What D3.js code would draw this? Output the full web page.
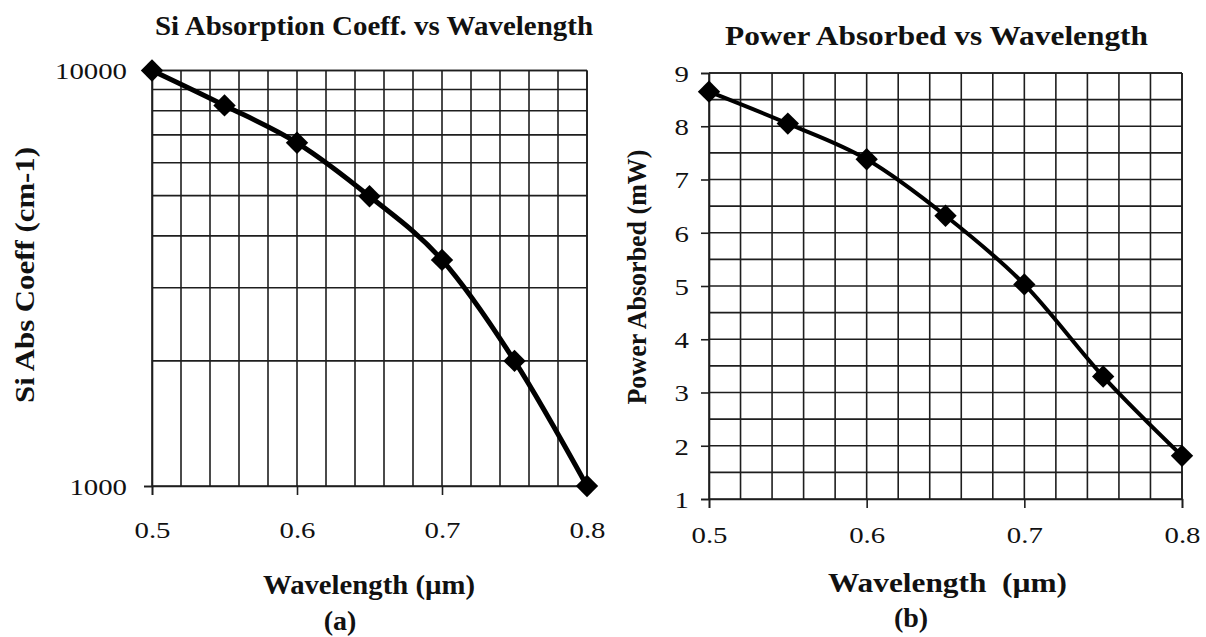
<!DOCTYPE html>
<html>
<head>
<meta charset="utf-8">
<script src="https://cdn.jsdelivr.net/npm/d3@7"></script>
<style>
  html, body { margin: 0; padding: 0; background: #fff; }
  svg { display: block; }
  text { font-family: "Liberation Serif", "Times New Roman", serif; fill: #111; }
</style>
</head>
<body>
<svg id="chart" width="1206" height="637"></svg>
<script>
// ---------- data ----------
const wavelengths = [0.5, 0.55, 0.6, 0.65, 0.7, 0.75, 0.8];
const absCoeff    = [10000, 8240, 6700, 4980, 3500, 2000, 1000];
const powerAbs    = [8.65, 8.05, 7.38, 6.32, 5.03, 3.30, 1.81];
const xTickValues = [0.5, 0.6, 0.7, 0.8];
const leftYTickValues  = [1000, 10000];
const rightYTickValues = [1, 2, 3, 4, 5, 6, 7, 8, 9];
const titleA = "Si Absorption Coeff. vs Wavelength";
const titleB = "Power Absorbed vs Wavelength";
const xTitleA = "Wavelength (µm)";
const xTitleB = "Wavelength\u00a0\u00a0(µm)";
const yTitleA = "Si Abs Coeff (cm-1)";
const yTitleB = "Power Absorbed (mW)";

const svg = d3.select("#chart");
const GRID = "#1e1e1e";

function stretch(sel, f) {
  sel.each(function () {
    const w = this.getComputedTextLength();
    d3.select(this).attr("textLength", w * f).attr("lengthAdjust", "spacingAndGlyphs");
  });
}

function drawPanel(opt) {
  const g = svg.append("g");
  const x = opt.x, y = opt.y;
  const [x0, x1] = x.range();
  const [yb, yt] = y.range();

  // vertical grid (0.02 steps)
  const vGrid = d3.range(0, 16).map(i => +(0.5 + i * 0.02).toFixed(2));
  g.append("g").selectAll("line").data(vGrid).join("line")
    .attr("x1", d => x(d)).attr("x2", d => x(d))
    .attr("y1", yt).attr("y2", yb)
    .attr("stroke", GRID).attr("stroke-width", 1.6);

  // horizontal grid
  g.append("g").selectAll("line").data(opt.hGrid).join("line")
    .attr("x1", x0).attr("x2", x1)
    .attr("y1", d => y(d)).attr("y2", d => y(d))
    .attr("stroke", GRID).attr("stroke-width", 1.6);

  // x axis
  const xa = g.append("g").attr("transform", `translate(0,${yb})`)
    .call(d3.axisBottom(x).tickValues(xTickValues).tickSize(9).tickFormat(d3.format(".1f")));
  xa.select(".domain").attr("stroke", GRID).attr("stroke-width", 1.6);
  xa.selectAll(".tick line").attr("stroke", GRID).attr("stroke-width", 1.6);
  xa.selectAll(".tick text")
    .attr("y", opt.xLabelOffset).attr("dy", "0.35em")
    .style("font-size", "24px").style("font-family", "Liberation Serif").attr("fill", "#111");
  stretch(xa.selectAll(".tick text"), 1.2);

  // y axis
  const ya = g.append("g").attr("transform", `translate(${x0},0)`)
    .call(d3.axisLeft(y).tickValues(opt.yTicks).tickSize(8).tickFormat(opt.yFormat));
  ya.select(".domain").attr("stroke", GRID).attr("stroke-width", 1.6);
  ya.selectAll(".tick line").attr("stroke", GRID).attr("stroke-width", 1.6);
  ya.selectAll(".tick text")
    .attr("x", -opt.yLabelOffset).attr("dy", "0.35em")
    .style("font-size", "24px").style("font-family", "Liberation Serif").attr("fill", "#111");
  stretch(ya.selectAll(".tick text"), 1.2);

  // right & top border
  g.append("line").attr("x1", x1).attr("x2", x1).attr("y1", yt).attr("y2", yb)
    .attr("stroke", GRID).attr("stroke-width", 1.6);
  g.append("line").attr("x1", x0).attr("x2", x1).attr("y1", yt).attr("y2", yt)
    .attr("stroke", GRID).attr("stroke-width", 1.6);

  // data line
  const pts = wavelengths.map((w, i) => [w, opt.values[i]]);
  const line = d3.line().x(d => x(d[0])).y(d => y(d[1])).curve(d3.curveCardinal.tension(0));
  g.append("path").datum(pts).attr("d", line)
    .attr("fill", "none").attr("stroke", "#000").attr("stroke-width", opt.lineWidth)
    .attr("stroke-linejoin", "round");

  // markers
  const sym = d3.symbol().type(d3.symbolSquare).size(250);
  g.append("g").selectAll("path").data(pts).join("path")
    .attr("d", sym)
    .attr("transform", d => `translate(${x(d[0])},${y(d[1])}) rotate(45)`)
    .attr("fill", "#000");

  // titles
  g.append("text").attr("x", opt.title.x).attr("y", opt.title.y)
    .style("font-size", "27px").style("font-weight", "bold").text(opt.title.text)
    .attr("textLength", opt.title.w).attr("lengthAdjust", "spacingAndGlyphs");

  g.append("text").attr("x", opt.xTitle.x).attr("y", opt.xTitle.y)
    .style("font-size", "28px").style("font-weight", "bold").text(opt.xTitle.text)
    .attr("textLength", opt.xTitle.w).attr("lengthAdjust", "spacingAndGlyphs");

  g.append("text")
    .attr("transform", `translate(${opt.yTitle.x},${opt.yTitle.y}) rotate(-90)`)
    .attr("text-anchor", "middle").attr("dy", "0.33em")
    .style("font-size", "27px").style("font-weight", "bold").text(opt.yTitle.text)
    .attr("textLength", opt.yTitle.w).attr("lengthAdjust", "spacingAndGlyphs");

  g.append("text").attr("x", opt.sub.x).attr("y", opt.sub.y)
    .attr("text-anchor", "middle")
    .style("font-size", "28px").style("font-weight", "bold").text(opt.sub.text);
}

// ---------- panel (a) ----------
const xA = d3.scaleLinear().domain([0.5, 0.8]).range([152, 587]);
const yA = d3.scaleLog().domain([1000, 10000]).range([486, 70.5]);
drawPanel({
  x: xA, y: yA,
  hGrid: yA.ticks(),
  yTicks: leftYTickValues,
  yFormat: d3.format("d"),
  values: absCoeff,
  xLabelOffset: 44, yLabelOffset: 25,
  lineWidth: 5,
  title: { text: titleA, x: 155, y: 35, w: 438 },
  xTitle: { text: xTitleA, x: 263, y: 594, w: 212 },
  yTitle: { text: yTitleA, x: 25, y: 275, w: 256 },
  sub: { text: "(a)", x: 340, y: 630 }
});

// ---------- panel (b) ----------
const xB = d3.scaleLinear().domain([0.5, 0.8]).range([709, 1182]);
const yB = d3.scaleLinear().domain([1, 9]).range([499, 73]);
drawPanel({
  x: xB, y: yB,
  hGrid: d3.range(0, 17).map(i => 1 + i * 0.5),
  yTicks: rightYTickValues,
  yFormat: d3.format("d"),
  values: powerAbs,
  xLabelOffset: 36, yLabelOffset: 20,
  lineWidth: 4,
  title: { text: titleB, x: 725, y: 45, w: 423 },
  xTitle: { text: xTitleB, x: 828, y: 592, w: 239 },
  yTitle: { text: yTitleB, x: 637, y: 277, w: 255 },
  sub: { text: "(b)", x: 911, y: 627 }
});
</script>
</body>
</html>
